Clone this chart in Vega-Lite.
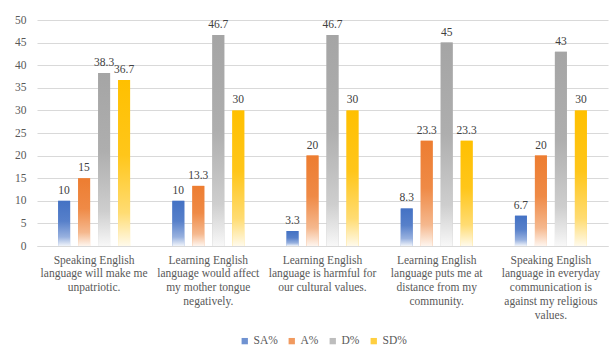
{
  "$schema": "https://vega.github.io/schema/vega-lite/v6.json",
  "width": 571,
  "height": 226,
  "autosize": {"type": "none"},
  "padding": {"left": 37, "top": 20, "right": 2, "bottom": 116},
  "background": "#ffffff",
  "config": {
    "view": {"stroke": null},
    "font": "Liberation Serif",
    "axisX": {"labelFont": "Liberation Serif", "labelFontSize": 11.5, "labelColor": "#595959"},
    "axisY": {"labelFont": "Liberation Serif", "labelFontSize": 11.5, "labelColor": "#595959"},
    "legend": {"labelFont": "Liberation Serif", "labelFontSize": 11.5, "labelColor": "#595959"}
  },
  "data": {
    "values": [
      {"q": "Speaking English|language will make me|unpatriotic.", "s": "SA%", "v": 10},
      {"q": "Speaking English|language will make me|unpatriotic.", "s": "A%", "v": 15},
      {"q": "Speaking English|language will make me|unpatriotic.", "s": "D%", "v": 38.3},
      {"q": "Speaking English|language will make me|unpatriotic.", "s": "SD%", "v": 36.7},
      {"q": "Learning English|language would affect|my mother tongue|negatively.", "s": "SA%", "v": 10},
      {"q": "Learning English|language would affect|my mother tongue|negatively.", "s": "A%", "v": 13.3},
      {"q": "Learning English|language would affect|my mother tongue|negatively.", "s": "D%", "v": 46.7},
      {"q": "Learning English|language would affect|my mother tongue|negatively.", "s": "SD%", "v": 30},
      {"q": "Learning English|language is harmful for|our cultural values.", "s": "SA%", "v": 3.3},
      {"q": "Learning English|language is harmful for|our cultural values.", "s": "A%", "v": 20},
      {"q": "Learning English|language is harmful for|our cultural values.", "s": "D%", "v": 46.7},
      {"q": "Learning English|language is harmful for|our cultural values.", "s": "SD%", "v": 30},
      {"q": "Learning English|language puts me at|distance from my|community.", "s": "SA%", "v": 8.3},
      {"q": "Learning English|language puts me at|distance from my|community.", "s": "A%", "v": 23.3},
      {"q": "Learning English|language puts me at|distance from my|community.", "s": "D%", "v": 45},
      {"q": "Learning English|language puts me at|distance from my|community.", "s": "SD%", "v": 23.3},
      {"q": "Speaking English|language in everyday|communication is|against my religious|values.", "s": "SA%", "v": 6.7},
      {"q": "Speaking English|language in everyday|communication is|against my religious|values.", "s": "A%", "v": 20},
      {"q": "Speaking English|language in everyday|communication is|against my religious|values.", "s": "D%", "v": 43},
      {"q": "Speaking English|language in everyday|communication is|against my religious|values.", "s": "SD%", "v": 30}
    ]
  },
  "encoding": {
    "x": {
      "field": "q", "type": "nominal", "sort": null,
      "scale": {"paddingInner": 0.37, "paddingOuter": 0.185},
      "axis": {
        "title": null, "labelAngle": 0, "ticks": false, "domainColor": "#d9d9d9",
        "labelExpr": "split(datum.label, '|')", "labelBaseline": "top",
        "labelLineHeight": 13.8, "labelPadding": 8, "labelLimit": 0
      }
    },
    "xOffset": {
      "field": "s", "type": "nominal", "sort": ["SA%", "A%", "D%", "SD%"],
      "scale": {"paddingInner": 0.4, "paddingOuter": 0}
    },
    "y": {
      "field": "v", "type": "quantitative",
      "scale": {"domain": [0, 50], "nice": false},
      "axis": {
        "title": null, "values": [0, 5, 10, 15, 20, 25, 30, 35, 40, 45, 50],
        "domain": false, "ticks": false, "gridColor": "#d9d9d9", "labelPadding": 11
      }
    }
  },
  "layer": [
    {
      "mark": {"type": "bar"},
      "encoding": {
        "color": {
          "field": "s", "type": "nominal", "sort": ["SA%", "A%", "D%", "SD%"],
          "scale": {
            "domain": ["SA%", "A%", "D%", "SD%"],
            "range": ["#6f92d1", "#f19a5f", "#bdbdbd", "#ffcf40"]
          },
          "legend": {
            "title": null, "orient": "none", "direction": "horizontal",
            "legendX": 202, "legendY": 315, "symbolType": "square", "symbolSize": 40,
            "columnPadding": 8, "labelOffset": 3, "symbolStrokeWidth": 0
          }
        }
      }
    },
    {
      "mark": {"type": "bar"},
      "encoding": {
        "fill": {
          "condition": [
            {"test": "datum.s === 'SA%'", "value": {"gradient": "linear", "x1": 0, "y1": 0, "x2": 0, "y2": 1, "stops": [
                {"offset": 0, "color": "#4472C4"}, {"offset": 0.45, "color": "#5780CA"},
                {"offset": 0.8, "color": "#98B1DF"}, {"offset": 1, "color": "#F0F4FA"}]}},
            {"test": "datum.s === 'A%'", "value": {"gradient": "linear", "x1": 0, "y1": 0, "x2": 0, "y2": 1, "stops": [
                {"offset": 0, "color": "#ED7D31"}, {"offset": 0.45, "color": "#EF8A46"},
                {"offset": 0.8, "color": "#F5B88E"}, {"offset": 1, "color": "#FEF5EE"}]}},
            {"test": "datum.s === 'D%'", "value": {"gradient": "linear", "x1": 0, "y1": 0, "x2": 0, "y2": 1, "stops": [
                {"offset": 0, "color": "#A5A5A5"}, {"offset": 0.45, "color": "#AEAEAE"},
                {"offset": 0.8, "color": "#CECECE"}, {"offset": 1, "color": "#F8F8F8"}]}}
          ],
          "value": {"gradient": "linear", "x1": 0, "y1": 0, "x2": 0, "y2": 1, "stops": [
                {"offset": 0, "color": "#FFC000"}, {"offset": 0.45, "color": "#FFC61A"},
                {"offset": 0.8, "color": "#FFDC73"}, {"offset": 1, "color": "#FFFAEB"}]}
        }
      }
    },
    {
      "mark": {"type": "text", "baseline": "bottom", "dy": -5, "fontSize": 11.5, "color": "#404040", "font": "Liberation Serif"},
      "encoding": {"text": {"field": "v", "type": "quantitative"}}
    }
  ]
}
